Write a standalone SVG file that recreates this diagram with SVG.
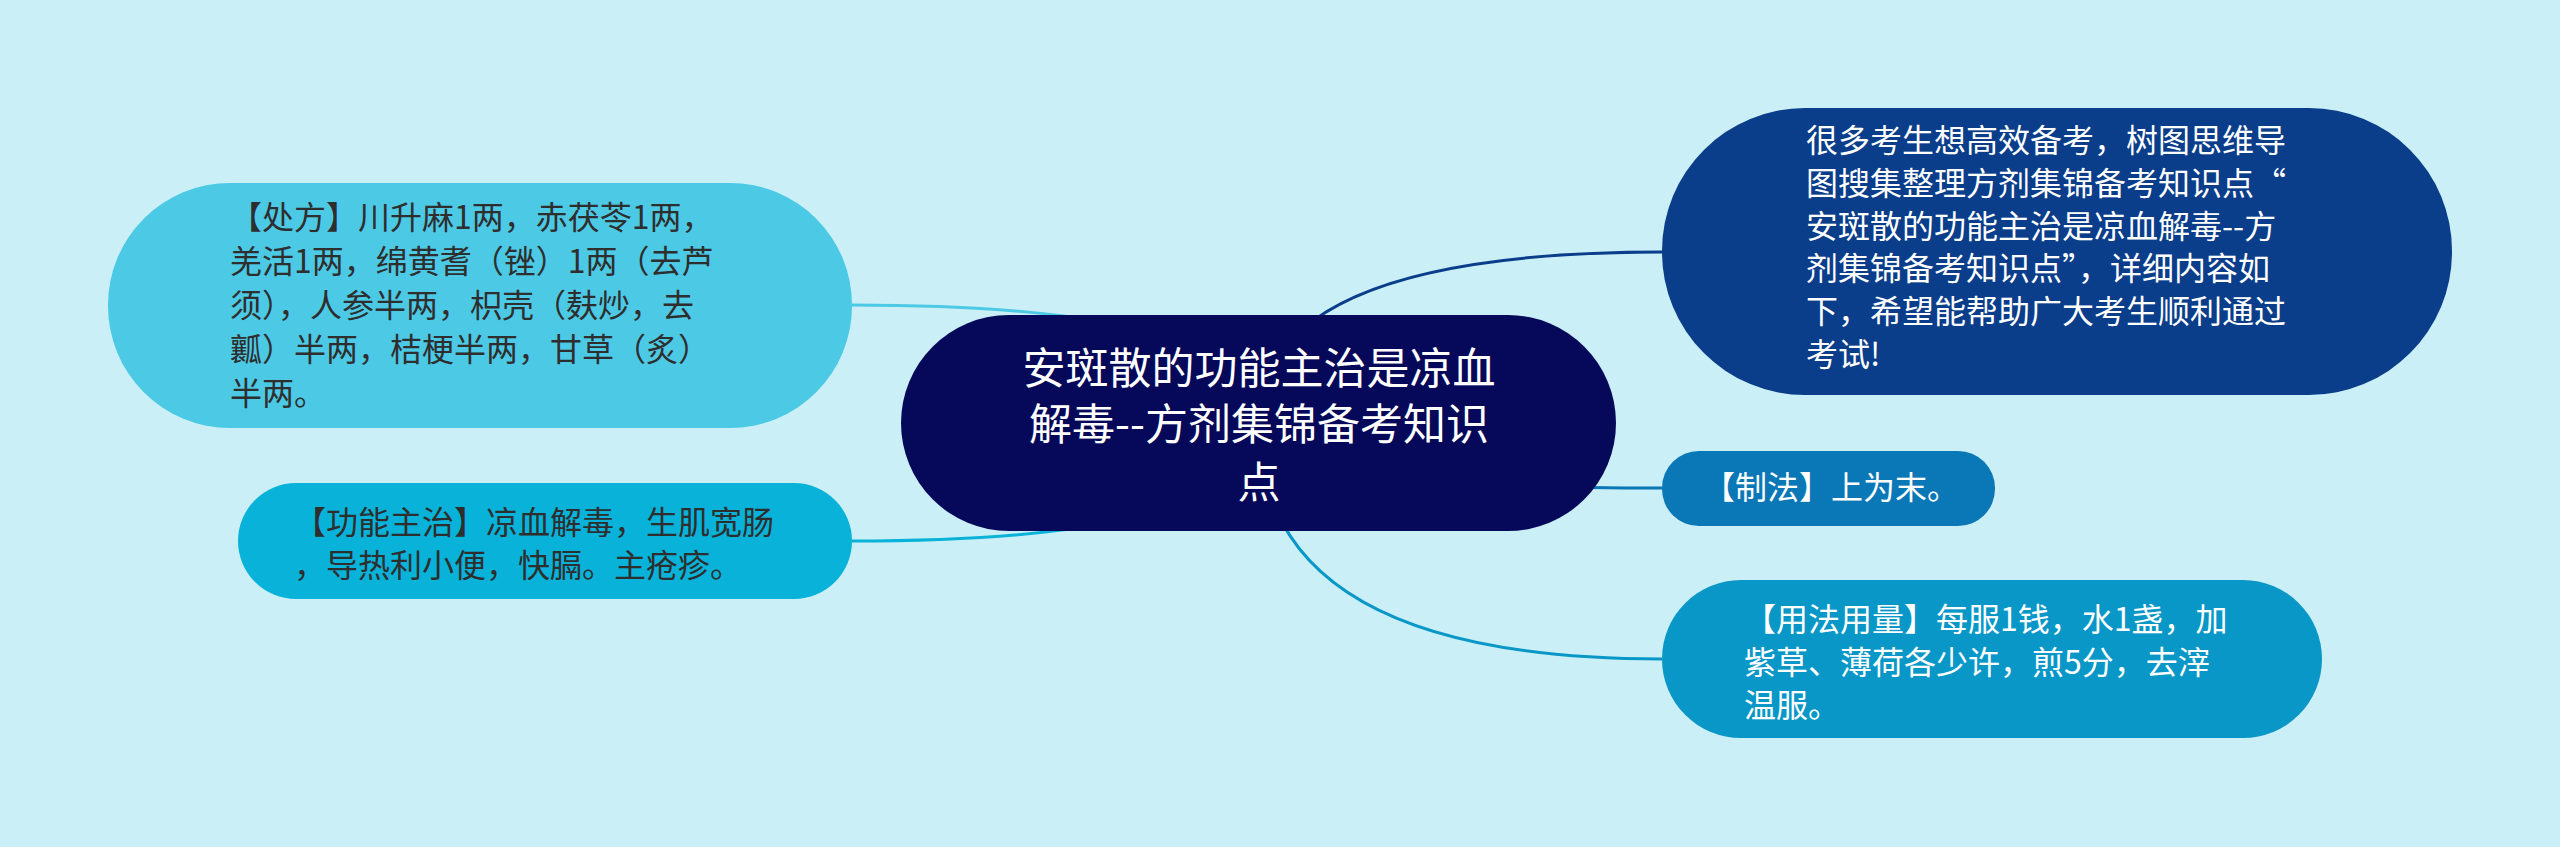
<svg xmlns="http://www.w3.org/2000/svg" width="2560" height="847" viewBox="0 0 2560 847">
<style>
.t{font-family:"Noto Sans CJK SC","Noto Sans",sans-serif;font-size:32px}
.dark{fill:#2e2e2e}
.light{fill:#ffffff}
.c{font-size:43px;fill:#ffffff;text-anchor:middle}
.ln{fill:none;stroke-width:3}
</style>
<rect width="2560" height="847" fill="#cbeff7"/>
<g id="connectors">
<path class="ln" stroke="#4cc9e5" d="M1259 423 Q1259 305 852 305"/>
<path class="ln" stroke="#08b2d8" d="M1259 423 Q1259 541 852 541"/>
<path class="ln" stroke="#0a3d8a" d="M1259 423 Q1259 252 1662 252"/>
<path class="ln" stroke="#0a77b7" d="M1259 423 Q1259 488 1662 488"/>
<path class="ln" stroke="#0997c7" d="M1259 423 Q1259 659 1662 659"/>
</g>
<g id="n-center">
<rect x="901" y="315" width="715" height="216" rx="108" fill="#06095a"/>
<text class="t c" x="1259" y="384">安斑散的功能主治是凉血</text>
<text class="t c" x="1259" y="440">解毒--方剂集锦备考知识</text>
<text class="t c" x="1259" y="498">点</text>
</g>
<g id="n-chufang">
<rect x="108" y="183" width="744" height="245" rx="122" fill="#4cc9e5"/>
<text class="t dark" x="230" y="229">【处方】川升麻1两，赤茯苓1两，</text>
<text class="t dark" x="230" y="273">羌活1两，绵黄耆（锉）1两（去芦</text>
<text class="t dark" x="230" y="317">须），人参半两，枳壳（麸炒，去</text>
<text class="t dark" x="230" y="361">瓤）半两，桔梗半两，甘草（炙）</text>
<text class="t dark" x="230" y="405">半两。</text>
</g>
<g id="n-gongneng">
<rect x="238" y="483" width="614" height="116" rx="58" fill="#08b2d8"/>
<text class="t dark" x="294" y="534">【功能主治】凉血解毒，生肌宽肠</text>
<text class="t dark" x="294" y="577">，导热利小便，快膈。主疮疹。</text>
</g>
<g id="n-intro">
<rect x="1662" y="108" width="790" height="287" rx="143" fill="#0a3d8a"/>
<text class="t light" x="1806" y="152">很多考生想高效备考，树图思维导</text>
<text class="t light" x="1806" y="195">图搜集整理方剂集锦备考知识点“</text>
<text class="t light" x="1806" y="238">安斑散的功能主治是凉血解毒--方</text>
<text class="t light" x="1806" y="280">剂集锦备考知识点”，详细内容如</text>
<text class="t light" x="1806" y="323">下，希望能帮助广大考生顺利通过</text>
<text class="t light" x="1806" y="366">考试!</text>
</g>
<g id="n-zhifa">
<rect x="1662" y="451" width="333" height="75" rx="37" fill="#0a77b7"/>
<text class="t light" x="1703" y="499">【制法】上为末。</text>
</g>
<g id="n-yongfa">
<rect x="1662" y="580" width="660" height="158" rx="79" fill="#0997c7"/>
<text class="t light" x="1744" y="631">【用法用量】每服1钱，水1盏，加</text>
<text class="t light" x="1744" y="674">紫草、薄荷各少许，煎5分，去滓</text>
<text class="t light" x="1744" y="717">温服。</text>
</g>
</svg>
